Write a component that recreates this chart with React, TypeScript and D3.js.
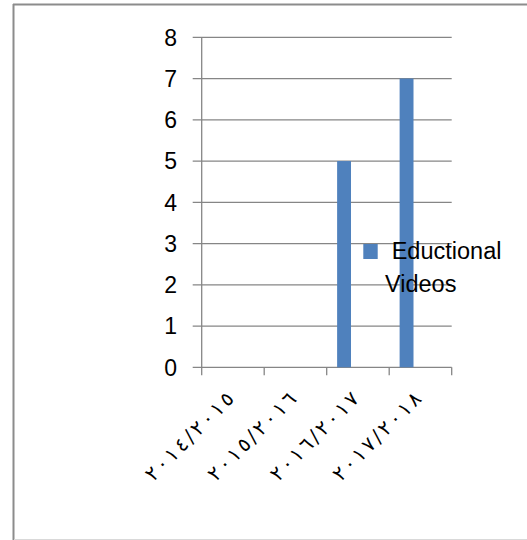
import React from "react";
import * as d3 from "d3";

const categories = ["٢٠١٤/٢٠١٥", "٢٠١٥/٢٠١٦", "٢٠١٦/٢٠١٧", "٢٠١٧/٢٠١٨"];
const seriesName = "Eductional Videos";
const values = [0, 0, 5, 7];
const yTicks = [0, 1, 2, 3, 4, 5, 6, 7, 8];
const slots = ["a", "b", "c"];

const W = 527;
const H = 540;
const left = 201.7;
const right = 451.7;
const top = 37.3;
const bottom = 367.3;

export default function App() {
  const x = d3.scaleBand<string>().domain(categories).range([left, right]).padding(0);
  const x1 = d3
    .scaleBand<string>()
    .domain(slots)
    .range([0, x.bandwidth()])
    .paddingInner(0)
    .paddingOuter(0.75);
  const y = d3.scaleLinear().domain([0, 8]).range([bottom, top]);
  const grid = "#868686";
  const font = "'Liberation Sans', Arial, sans-serif";
  const boundaries = [...categories.map((c) => x(c) as number), right];

  return (
    <div style={{ position: "absolute", left: 0, top: 0 }}>
      <svg width={W} height={H} style={{ display: "block" }}>
        <rect x={0} y={0} width={W} height={H} fill="#fff" />
        {/* frame */}
        <line x1={13} x2={W} y1={4.5} y2={4.5} stroke="#8c8c8c" strokeWidth={2} />
        <line x1={13.5} x2={13.5} y1={4} y2={H} stroke="#8c8c8c" strokeWidth={2} />
        <line x1={14} x2={W} y1={539.5} y2={539.5} stroke="#d9d9d9" strokeWidth={1} />

        {/* gridlines + y ticks */}
        {yTicks.map((t) => (
          <g key={t}>
            <line x1={left - 9} x2={right} y1={y(t)} y2={y(t)} stroke={grid} strokeWidth={1.3} />
            <text
              x={177}
              y={y(t)}
              dy="0.36em"
              textAnchor="end"
              fontFamily={font}
              fontSize={23}
              fill="#000"
            >
              {t}
            </text>
          </g>
        ))}
        {/* y axis */}
        <line x1={left} x2={left} y1={top} y2={bottom} stroke={grid} strokeWidth={1.3} />
        {/* x ticks */}
        {boundaries.map((bx, i) => (
          <line key={i} x1={bx} x2={bx} y1={bottom} y2={bottom + 8} stroke={grid} strokeWidth={1.3} />
        ))}

        {/* bars */}
        {categories.map((c, i) =>
          values[i] > 0 ? (
            <rect
              key={c}
              x={(x(c) as number) + (x1(slots[0]) as number)}
              y={y(values[i])}
              width={x1.bandwidth()}
              height={y(0) - y(values[i])}
              fill="#4F81BD"
            />
          ) : null
        )}

        {/* x labels */}
        {categories.map((c) => {
          const cx = (x(c) as number) + x.bandwidth() / 2 - 2;
          const cy = 396;
          return (
            <text
              key={c}
              transform={`translate(${cx},${cy}) rotate(-45)`}
              textAnchor="end"
              fontFamily="'DejaVu Sans', sans-serif"
              fontSize={20}
              textLength={116}
              lengthAdjust="spacing"
              fill="#000"
              dy="0.3em"
            >
              {c}
            </text>
          );
        })}

        {/* legend */}
        <rect x={363.3} y={244} width={14.4} height={15} fill="#4F81BD" />
        <text x={391.7} y={258.5} fontFamily={font} fontSize={23.5} fill="#000">
          {seriesName.split(" ")[0]}
        </text>
        <text x={385} y={291.5} fontFamily={font} fontSize={23.5} fill="#000">
          {seriesName.split(" ")[1]}
        </text>
      </svg>
    </div>
  );
}
